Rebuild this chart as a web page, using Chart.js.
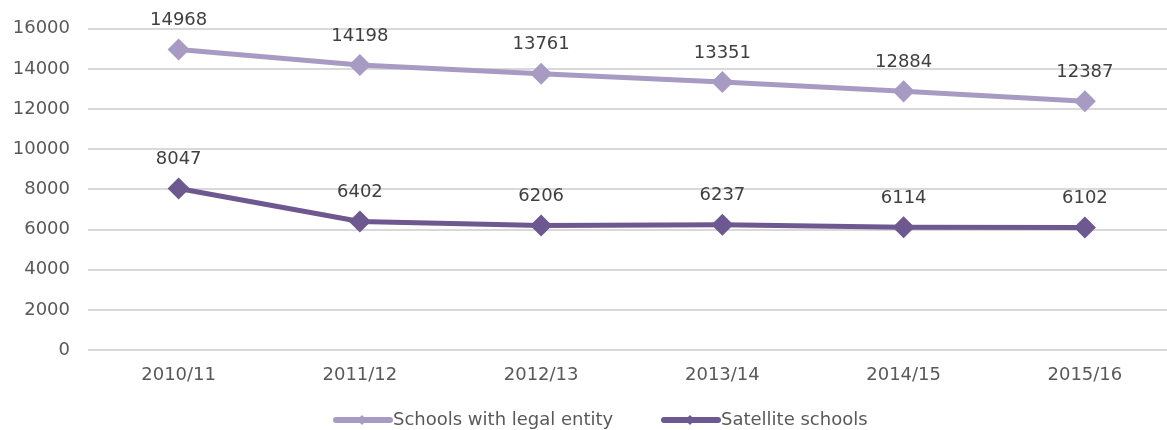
<!DOCTYPE html>
<html>
<head>
<meta charset="utf-8">
<script src="https://cdn.jsdelivr.net/npm/chart.js@4"></script>
<style>
  html, body { margin: 0; padding: 0; background: #ffffff; overflow: hidden; }
  #wrap { width: 1188px; height: 430px; }
</style>
</head>
<body>
<div id="wrap"><canvas id="chart" width="1188" height="430"></canvas></div>
<script>
// School years on the horizontal axis
const years = ['2010/11', '2011/12', '2012/13', '2013/14', '2014/15', '2015/16'];

// Number of schools per year
const legalEntitySchools = [14968, 14198, 13761, 13351, 12884, 12387];
const satelliteSchools = [8047, 6402, 6206, 6237, 6114, 6102];

// Series names
const seriesNames = ['Schools with legal entity', 'Satellite schools'];

// Value axis ticks
const yTicks = [0, 2000, 4000, 6000, 8000, 10000, 12000, 14000, 16000];

const FONT = '"DejaVu Sans", sans-serif';
const FONT_SIZE = 18;
const LIGHT = '#a79bc3';
const DARK = '#6d5890';

// Value labels drawn above each point
const valueLabels = {
  id: 'valueLabels',
  afterDatasetsDraw(chart) {
    const ctx = chart.ctx;
    ctx.save();
    ctx.font = FONT_SIZE + 'px ' + FONT;
    ctx.fillStyle = '#404040';
    ctx.textAlign = 'center';
    ctx.textBaseline = 'middle';
    chart.data.datasets.forEach((ds, i) => {
      chart.getDatasetMeta(i).data.forEach((pt, j) => {
        ctx.fillText(String(ds.data[j]), pt.x, pt.y - 29);
      });
    });
    ctx.restore();
  }
};

// Legend row at the bottom: thick line with a diamond, then the series name
const bottomLegend = {
  id: 'bottomLegend',
  afterDraw(chart) {
    const ctx = chart.ctx;
    ctx.save();
    ctx.font = FONT_SIZE + 'px ' + FONT;
    ctx.textBaseline = 'middle';
    const y = 420;
    const starts = [333, 661];
    chart.data.datasets.forEach((ds, i) => {
      const x0 = starts[i];
      ctx.strokeStyle = ds.borderColor;
      ctx.lineWidth = 6;
      ctx.lineCap = 'round';
      ctx.beginPath();
      ctx.moveTo(x0 + 3, y);
      ctx.lineTo(x0 + 57, y);
      ctx.stroke();
      ctx.fillStyle = ds.borderColor;
      ctx.beginPath();
      ctx.moveTo(x0 + 29, y - 5);
      ctx.lineTo(x0 + 34, y);
      ctx.lineTo(x0 + 29, y + 5);
      ctx.lineTo(x0 + 24, y);
      ctx.closePath();
      ctx.fill();
      ctx.fillStyle = '#595959';
      ctx.textAlign = 'left';
      ctx.fillText(ds.label, x0 + 60, y);
    });
    ctx.restore();
  }
};

new Chart(document.getElementById('chart'), {
  type: 'line',
  data: {
    labels: years,
    datasets: [
      {
        label: seriesNames[0],
        data: legalEntitySchools,
        borderColor: LIGHT,
        backgroundColor: LIGHT,
        borderWidth: 5,
        pointStyle: 'rectRot',
        pointRadius: 7.5,
        pointHoverRadius: 7.5,
        tension: 0
      },
      {
        label: seriesNames[1],
        data: satelliteSchools,
        borderColor: DARK,
        backgroundColor: DARK,
        borderWidth: 5,
        pointStyle: 'rectRot',
        pointRadius: 7.5,
        pointHoverRadius: 7.5,
        tension: 0
      }
    ]
  },
  options: {
    responsive: false,
    animation: false,
    events: [],
    layout: { padding: { top: 28, right: 0, left: 0, bottom: 0 } },
    plugins: {
      legend: { display: false },
      tooltip: { enabled: false }
    },
    scales: {
      x: {
        offset: true,
        grid: { display: false, drawTicks: false },
        border: { display: false },
        ticks: {
          font: { family: FONT, size: FONT_SIZE },
          color: '#595959',
          padding: 15,
          maxRotation: 0
        },
        afterFit(scale) { scale.height = 80; }
      },
      y: {
        min: 0,
        max: 16000,
        afterBuildTicks(scale) { scale.ticks = yTicks.map(v => ({ value: v })); },
        grid: { color: '#d9d9d9', lineWidth: 2, drawTicks: false },
        border: { display: false },
        ticks: {
          font: { family: FONT, size: FONT_SIZE },
          color: '#595959',
          padding: 18,
          callback: v => String(v)
        },
        afterFit(scale) { scale.width = 88; }
      }
    }
  },
  plugins: [valueLabels, bottomLegend]
});
</script>
</body>
</html>
